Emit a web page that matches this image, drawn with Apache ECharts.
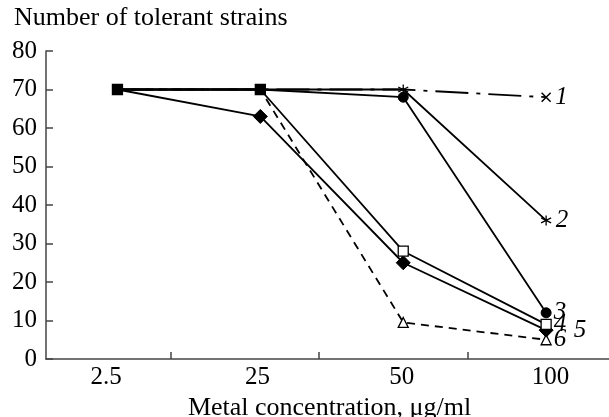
<!DOCTYPE html>
<html>
<head>
<meta charset="utf-8">
<script src="https://cdn.jsdelivr.net/npm/echarts@6/dist/echarts.min.js"></script>
<style>
  html, body { margin: 0; padding: 0; background: #fff; }
  #chart { width: 609px; height: 417px; }
</style>
</head>
<body>
<div id="chart"></div>
<script>
    // concentrations (ug/ml) and number of tolerant strains per metal
    var categories = ['2.5', '25', '50', '100'];
    var curve1 = [70, 70, 70, 68];
    var curve2 = [70, 70, 70, 36];
    var curve3 = [70, 70, 68, 12];
    var curve4 = [70, 70, 28, 9];
    var curve5 = [70, 63, 25, 7.5];
    var curve6 = [70, 70, 9.5, 5];
    var curveNames = ['1', '2', '3', '4', '5', '6'];
    var yTicks = [0, 10, 20, 30, 40, 50, 60, 70, 80];

    var font = 'Liberation Serif';
    var starPath = 'path://M5,0 L5,10 M0.7,2.5 L9.3,7.5 M0.7,7.5 L9.3,2.5';
    var crossPath = 'path://M0,0 L10,10 M0,10 L10,0';

    // markers visible per point, null = hidden (shared points drawn once)
    function makeData(values, symbols) {
        return values.map(function (v, i) {
            var s = symbols[i];
            return {
                value: [i, v],
                symbol: s ? s : 'none'
            };
        });
    }

    function lineSeries(name, values, symbols, opt) {
        return {
            name: name,
            type: 'line',
            data: makeData(values, symbols),
            symbolSize: opt.size || 10,
            z: opt.z || 2,
            lineStyle: {color: '#000', width: 1.8, type: opt.dash || 'solid'},
            itemStyle: opt.item,
            label: {
                show: true,
                position: 'right',
                distance: opt.labelDist || 2,
                offset: opt.labelOffset || [0, 0],
                color: '#000',
                fontFamily: font,
                fontStyle: 'italic',
                fontSize: 25,
                formatter: function (p) {
                    return p.dataIndex === values.length - 1 ? name : '';
                }
            },
            labelLayout: {hideOverlap: false},
            emphasis: {disabled: true},
            animation: false
        };
    }

    var chart = echarts.init(document.getElementById('chart'));

    var option = {
        backgroundColor: '#fff',
        title: {
            text: 'Number of tolerant strains',
            left: 9,
            top: 0,
            textStyle: {fontFamily: font, fontWeight: 'normal', fontSize: 26, color: '#000'}
        },
        grid: {left: 46, right: 0, top: 51, bottom: 58, outerBoundsMode: 'none', containLabel: false},
        xAxis: {
            type: 'value',
            min: -0.5,
            max: 3.44,
            name: 'Metal concentration, μg/ml',
            nameLocation: 'middle',
            nameGap: 28,
            nameTextStyle: {fontFamily: font, fontSize: 26, color: '#000', padding: [0, 0, 0, 4]},
            splitLine: {show: false},
            axisLine: {onZero: false, lineStyle: {color: '#444', width: 1.5}},
            axisTick: {inside: true, length: 7, lineStyle: {color: '#444', width: 1.5},
                customValues: [0.37, 1.41, 2.45]},
            axisLabel: {
                customValues: [-0.08, 0.98, 1.99, 3.03],
                margin: 6,
                fontFamily: font, fontSize: 25, color: '#000',
                formatter: function (v) {
                    return categories[Math.round(v)];
                }
            }
        },
        yAxis: {
            type: 'value',
            min: 0,
            max: 80,
            interval: 10,
            splitLine: {show: false},
            axisLine: {show: true, onZero: false, lineStyle: {color: '#444', width: 1.5}},
            axisTick: {show: true, inside: true, length: 7, lineStyle: {color: '#444', width: 1.5}},
            axisLabel: {
                margin: 9,
                fontFamily: font, fontSize: 25, color: '#000',
                formatter: function (v) {
                    return yTicks.indexOf(v) >= 0 ? String(v) : '';
                }
            }
        },
        series: [
            lineSeries(curveNames[5], curve6, [null, null, 'triangle', 'triangle'], {
                dash: [8, 6], size: 10, labelOffset: [0, 4],
                item: {color: '#fff', borderColor: '#000', borderWidth: 1.3}
            }),
            lineSeries(curveNames[4], curve5, [null, 'diamond', 'diamond', 'diamond'], {
                size: 14, labelDist: 20,
                item: {color: '#000', borderColor: '#000'}
            }),
            lineSeries(curveNames[3], curve4, [null, null, 'rect', 'rect'], {
                size: 10, labelOffset: [0, -1],
                item: {color: '#fff', borderColor: '#000', borderWidth: 1.3}
            }),
            lineSeries(curveNames[2], curve3, [null, null, 'circle', 'circle'], {
                size: 10, labelOffset: [0, -6],
                item: {color: '#000', borderColor: '#000'}
            }),
            lineSeries(curveNames[1], curve2, [null, null, starPath, starPath], {
                size: 10,
                item: {color: 'none', borderColor: '#000', borderWidth: 1.3}
            }),
            lineSeries(curveNames[0], curve1, ['rect', 'rect', null, crossPath], {
                dash: [33, 8, 4, 8], size: 10, z: 5,
                item: {color: '#000', borderColor: '#000', borderWidth: 1.3}
            })
        ]
    };

    // cross marker of curve 1 is stroke-only
    option.series[5].data[3].itemStyle = {color: 'none', borderColor: '#000', borderWidth: 1.5};
    option.series[5].data[3].symbolSize = 9;

    chart.setOption(option);
</script>
</body>
</html>
